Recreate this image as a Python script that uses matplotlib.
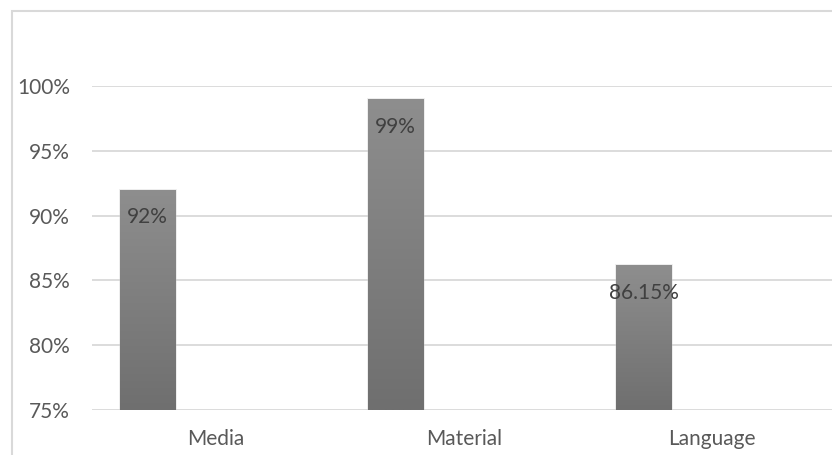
import matplotlib.pyplot as plt
import numpy as np
from matplotlib.patches import Rectangle
from matplotlib.colors import LinearSegmentedColormap

categories = ["Media", "Material", "Language"]
values = [92, 99, 86.15]
value_labels = ["92%", "99%", "86.15%"]
yticks = [75, 80, 85, 90, 95, 100]
ytick_labels = ["75%", "80%", "85%", "90%", "95%", "100%"]

plt.rcParams['font.family'] = ['Lato', 'DejaVu Sans']

W, H = 832, 455
fig = plt.figure(figsize=(W / 100, H / 100), dpi=100)
fig.patch.set_facecolor('white')
ax = fig.add_axes([92 / W, 1 - 410 / H, (836 - 92) / W, (410 - 86) / H])

ymin = 75
x = np.arange(len(categories))
offset = -0.276
width = 0.222
heights = np.array(values) - ymin
bars = ax.bar(x + offset, heights, bottom=ymin, width=width,
              color='none', edgecolor='none', zorder=3)

cmap = LinearSegmentedColormap.from_list('g', ['#6f6f6f', '#8e8e8e'])
grad = np.linspace(0, 1, 256).reshape(-1, 1)
for b in bars:
    x0 = b.get_x()
    x1 = x0 + b.get_width()
    y0 = b.get_y()
    y1 = y0 + b.get_height()
    # soft shadow
    sh = Rectangle((x0, y0), b.get_width(), b.get_height(), facecolor='none',
                   edgecolor='#c8c8c8', lw=2.0, alpha=0.35, zorder=2.9)
    ax.add_patch(sh)
    im = ax.imshow(grad, extent=[x0, x1, y0, y1], origin='lower', cmap=cmap,
                   aspect='auto', zorder=3, interpolation='bilinear')
    im.set_clip_path(b)

for b, lab in zip(bars, value_labels):
    ax.annotate(lab, (b.get_x() + b.get_width() / 2, b.get_y() + b.get_height()),
                xytext=(0, -20), textcoords='offset points', ha='center', va='center',
                fontsize=15, color='#404040', zorder=5)

ax.set_xlim(-0.5, len(categories) - 0.5)
ax.set_ylim(75, 100)
ax.set_yticks(yticks)
ax.set_yticklabels(ytick_labels)
ax.set_xticks(x)
ax.set_xticklabels(categories)
ax.tick_params(axis='y', length=0, pad=16, labelsize=15, labelcolor='#595959')
ax.tick_params(axis='x', length=0, pad=14, labelsize=15, labelcolor='#595959')
ax.yaxis.grid(True, color='#d9d9d9', lw=1.3, zorder=0)
ax.set_axisbelow(True)
for s in ax.spines.values():
    s.set_visible(False)

fig.add_artist(Rectangle((12 / W, -0.5), 2, 1 - 11 / H + 0.5, transform=fig.transFigure,
                         fill=False, edgecolor='#d9d9d9', lw=1.5))

fig.savefig('out.png', dpi=100, facecolor='white')
